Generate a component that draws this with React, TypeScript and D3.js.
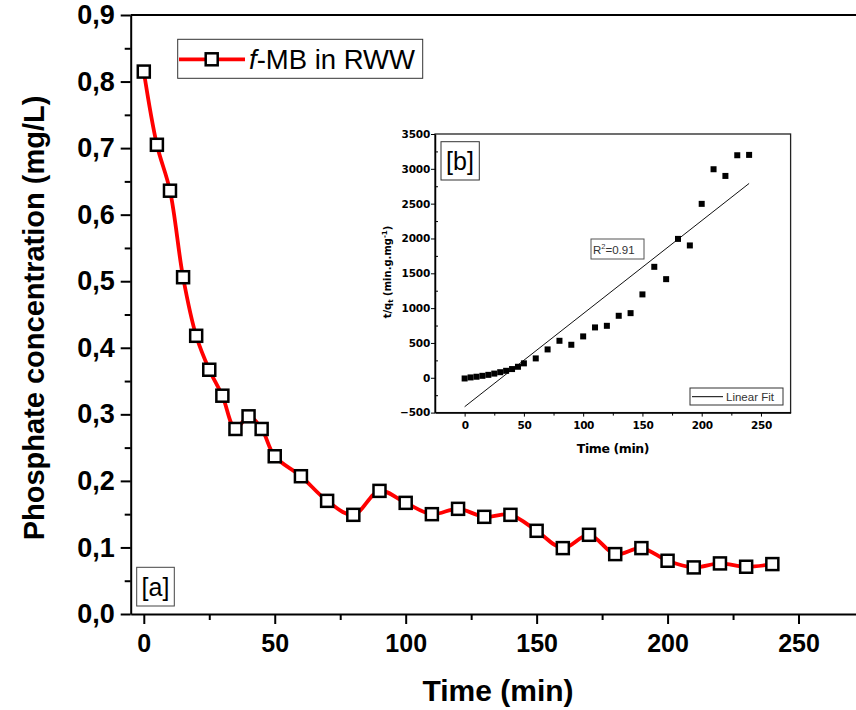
import React, { useEffect, useRef } from "react";
import * as d3 from "d3";

// sampling times (min), shared by main plot and inset
const times = [0, 5, 10, 15, 20, 25, 30, 35, 40, 45, 50, 60, 70, 80, 90, 100, 110, 120, 130, 140, 150, 160, 170, 180, 190, 200, 210, 220, 230, 240];
// phosphate concentration (mg/L), f-MB in RWW
const phosphate = [0.815, 0.705, 0.636, 0.506, 0.418, 0.367, 0.328, 0.278, 0.297, 0.278, 0.237, 0.207, 0.17, 0.149, 0.185, 0.167, 0.15, 0.158, 0.146, 0.149, 0.125, 0.099, 0.119, 0.09, 0.099, 0.08, 0.07, 0.076, 0.071, 0.075];
// inset: t/qt (min.g.mg-1)
const tOverQ = [-10, 5, 15, 28, 42, 60, 80, 100, 125, 158, 207, 278, 407, 531, 474, 594, 723, 746, 890, 928, 1197, 1593, 1416, 1994, 1900, 2497, 2994, 2898, 3195, 3200];
// linear fit
const fitSlope = 13.36;
const fitIntercept = -416;
const fitRange = [0, 240];

const mainYTicks = [0, 0.1, 0.2, 0.3, 0.4, 0.5, 0.6, 0.7, 0.8, 0.9];
const mainXTicks = [0, 50, 100, 150, 200, 250];
const insetYTicks = [-500, 0, 500, 1000, 1500, 2000, 2500, 3000, 3500];
const insetXTicks = [0, 50, 100, 150, 200, 250];

const FONT = "'Liberation Sans', Arial, sans-serif";
const HEAVY = "'DejaVu Sans', sans-serif";

export default function App() {
  const svgRef = useRef<SVGSVGElement>(null);

  useEffect(() => {
    const svg = d3.select(svgRef.current);
    svg.selectAll("*").remove();

    // ---------- main plot ----------
    const x = d3.scaleLinear().domain([-5, 275]).range([130.7, 864]);
    const y = d3.scaleLinear().domain([0, 0.9]).range([614, 15]);
    const main = svg.append("g");

    // frame top
    main.append("line")
      .attr("x1", x(-5)).attr("x2", 856).attr("y1", y(0.9)).attr("y2", y(0.9))
      .attr("stroke", "#000").attr("stroke-width", 2);

    const yAxis = main.append("g").attr("transform", `translate(${x(-5)},0)`)
      .call(d3.axisLeft(y).tickValues(mainYTicks).tickSize(10).tickSizeOuter(0)
        .tickFormat((d) => d3.format(".1f")(d as number).replace(".", ",")));
    yAxis.select(".domain").attr("stroke-width", 2);
    yAxis.selectAll(".tick line").attr("stroke-width", 2);
    yAxis.selectAll(".tick text")
      .attr("font-family", FONT).attr("font-weight", "bold").attr("font-size", 27).attr("x", -16);
    main.append("g").attr("transform", `translate(${x(-5)},0)`)
      .call(d3.axisLeft(y).tickValues(mainYTicks.slice(0, -1).map((d) => d + 0.05)).tickSize(6).tickSizeOuter(0).tickFormat(() => ""))
      .call((g) => g.select(".domain").remove())
      .selectAll(".tick line").attr("stroke-width", 2);

    const xAxis = main.append("g").attr("transform", `translate(0,${y(0)})`)
      .call(d3.axisBottom(x).tickValues(mainXTicks).tickSize(10).tickSizeOuter(0));
    xAxis.select(".domain").attr("stroke-width", 2);
    xAxis.selectAll(".tick line").attr("stroke-width", 2);
    xAxis.selectAll(".tick text")
      .attr("font-family", FONT).attr("font-weight", "bold").attr("font-size", 25).attr("y", 20);
    main.append("g").attr("transform", `translate(0,${y(0)})`)
      .call(d3.axisBottom(x).tickValues([25, 75, 125, 175, 225]).tickSize(6).tickSizeOuter(0).tickFormat(() => ""))
      .call((g) => g.select(".domain").remove())
      .selectAll(".tick line").attr("stroke-width", 2);

    main.append("text")
      .attr("transform", `translate(44,318) rotate(-90)`)
      .attr("text-anchor", "middle").attr("font-family", FONT).attr("font-weight", "bold").attr("font-size", 29)
      .text("Phosphate concentration (mg/L)");
    main.append("text")
      .attr("x", 498).attr("y", 701)
      .attr("text-anchor", "middle").attr("font-family", FONT).attr("font-weight", "bold").attr("font-size", 30)
      .text("Time (min)");

    const line = d3.line<number>()
      .x((_, i) => x(times[i]))
      .y((d) => y(d))
      .curve(d3.curveCatmullRom.alpha(0.5));
    main.append("path").datum(phosphate)
      .attr("d", line).attr("fill", "none").attr("stroke", "#ff0000").attr("stroke-width", 3.8);
    main.selectAll("rect.mk").data(phosphate).join("rect").attr("class", "mk")
      .attr("x", (_, i) => x(times[i]) - 6).attr("y", (d) => y(d) - 6)
      .attr("width", 12).attr("height", 12)
      .attr("fill", "#fff").attr("stroke", "#000").attr("stroke-width", 2.5);

    // legend
    const leg = main.append("g");
    leg.append("rect").attr("x", 177.7).attr("y", 39.3).attr("width", 245).attr("height", 39)
      .attr("fill", "#fff").attr("stroke", "#333").attr("stroke-width", 1);
    leg.append("line").attr("x1", 179).attr("x2", 245).attr("y1", 59.3).attr("y2", 59.3)
      .attr("stroke", "#ff0000").attr("stroke-width", 3.8);
    leg.append("rect").attr("x", 211.7 - 6).attr("y", 59.3 - 6).attr("width", 12).attr("height", 12)
      .attr("fill", "#fff").attr("stroke", "#000").attr("stroke-width", 2.5);
    const lt = leg.append("text").attr("x", 249).attr("y", 69).attr("font-family", FONT).attr("font-size", 27.5);
    lt.append("tspan").attr("font-style", "italic").text("f");
    lt.append("tspan").text("-MB in RWW");

    // [a] label
    main.append("rect").attr("x", 136.7).attr("y", 567.3).attr("width", 37.6).attr("height", 38.7)
      .attr("fill", "#fff").attr("stroke", "#444").attr("stroke-width", 1);
    main.append("text").attr("x", 155.5).attr("y", 596).attr("text-anchor", "middle")
      .attr("font-family", FONT).attr("font-size", 25).text("[a]");

    // ---------- inset ----------
    const xi = d3.scaleLinear().domain([-25, 275]).range([435, 790.6]);
    const yi = d3.scaleLinear().domain([-500, 3500]).range([412.6, 134]);
    const ins = svg.append("g");

    ins.append("rect").attr("x", xi(-25)).attr("y", yi(3500))
      .attr("width", xi(275) - xi(-25)).attr("height", yi(-500) - yi(3500))
      .attr("fill", "#fff").attr("stroke", "#222").attr("stroke-width", 1.3);

    const iy = ins.append("g").attr("transform", `translate(${xi(-25)},0)`)
      .call(d3.axisLeft(yi).tickValues(insetYTicks).tickSize(4).tickSizeOuter(0).tickFormat(d3.format("d")));
    iy.select(".domain").attr("stroke-width", 1.5);
    iy.selectAll(".tick text").attr("font-family", HEAVY).attr("font-weight", "bold")
      .attr("font-size", 10.5).attr("letter-spacing", -0.2).attr("x", -5);
    ins.append("g").attr("transform", `translate(${xi(-25)},0)`)
      .call(d3.axisRight(yi).tickValues(insetYTicks.slice(0, -1).map((d) => d + 250)).tickSize(3).tickSizeOuter(0).tickFormat(() => ""))
      .call((g) => g.select(".domain").remove());

    const ix = ins.append("g").attr("transform", `translate(0,${yi(-500)})`)
      .call(d3.axisBottom(xi).tickValues(insetXTicks).tickSize(4).tickSizeOuter(0).tickFormat(d3.format("d")));
    ix.select(".domain").attr("stroke-width", 1.5);
    ix.selectAll(".tick text").attr("font-family", HEAVY).attr("font-weight", "bold")
      .attr("font-size", 10.5).attr("letter-spacing", -0.4).attr("y", 9);
    ins.append("g").attr("transform", `translate(0,${yi(-500)})`)
      .call(d3.axisBottom(xi).tickValues([25, 75, 125, 175, 225]).tickSize(3).tickSizeOuter(0).tickFormat(() => ""))
      .call((g) => g.select(".domain").remove());

    const yt = ins.append("text").attr("transform", `translate(391,272) rotate(-90)`)
      .attr("text-anchor", "middle").attr("font-family", HEAVY).attr("font-weight", "bold").attr("font-size", 10);
    yt.append("tspan").text("t/q");
    yt.append("tspan").attr("font-size", 7).attr("dy", 2).text("t");
    yt.append("tspan").attr("dy", -2).text(" (min.g.mg");
    yt.append("tspan").attr("font-size", 7).attr("dy", -4).text("-1");
    yt.append("tspan").attr("dy", 4).text(")");
    ins.append("text").attr("x", 613).attr("y", 453).attr("text-anchor", "middle")
      .attr("font-family", HEAVY).attr("font-weight", "bold").attr("font-size", 12.5).attr("letter-spacing", -0.4)
      .text("Time (min)");

    // linear fit
    ins.append("line")
      .attr("x1", xi(fitRange[0])).attr("y1", yi(fitIntercept + fitSlope * fitRange[0]))
      .attr("x2", xi(fitRange[1])).attr("y2", yi(fitIntercept + fitSlope * fitRange[1]))
      .attr("stroke", "#111").attr("stroke-width", 1);
    ins.selectAll("rect.pt").data(tOverQ).join("rect").attr("class", "pt")
      .attr("x", (_, i) => xi(times[i]) - 3).attr("y", (d) => yi(d) - 3)
      .attr("width", 6).attr("height", 6).attr("fill", "#000");

    // [b] label
    ins.append("rect").attr("x", 441).attr("y", 141.7).attr("width", 38.3).attr("height", 38.3)
      .attr("fill", "#fff").attr("stroke", "#333").attr("stroke-width", 1);
    ins.append("text").attr("x", 460).attr("y", 170).attr("text-anchor", "middle")
      .attr("font-family", FONT).attr("font-size", 25).text("[b]");

    // R2 box
    ins.append("rect").attr("x", 591).attr("y", 239).attr("width", 53).attr("height", 20)
      .attr("fill", "#fff").attr("stroke", "#555").attr("stroke-width", 1);
    const rt = ins.append("text").attr("x", 593).attr("y", 253.5)
      .attr("font-family", FONT).attr("font-size", 11.5).attr("fill", "#333");
    rt.append("tspan").text("R");
    rt.append("tspan").attr("font-size", 7.5).attr("dy", -5).text("2");
    rt.append("tspan").attr("dy", 5).text("=0.91");

    // Linear Fit legend
    ins.append("rect").attr("x", 690).attr("y", 388).attr("width", 93).attr("height", 17)
      .attr("fill", "#fff").attr("stroke", "#333").attr("stroke-width", 1);
    ins.append("line").attr("x1", 692).attr("x2", 723).attr("y1", 396.7).attr("y2", 396.7)
      .attr("stroke", "#000").attr("stroke-width", 1);
    ins.append("text").attr("x", 726).attr("y", 401)
      .attr("font-family", FONT).attr("font-size", 11.5).attr("fill", "#333").text("Linear Fit");
  }, []);

  return (
    <svg ref={svgRef} width={856} height={710}
      style={{ position: "absolute", left: 0, top: 0, background: "#fff" }} />
  );
}
